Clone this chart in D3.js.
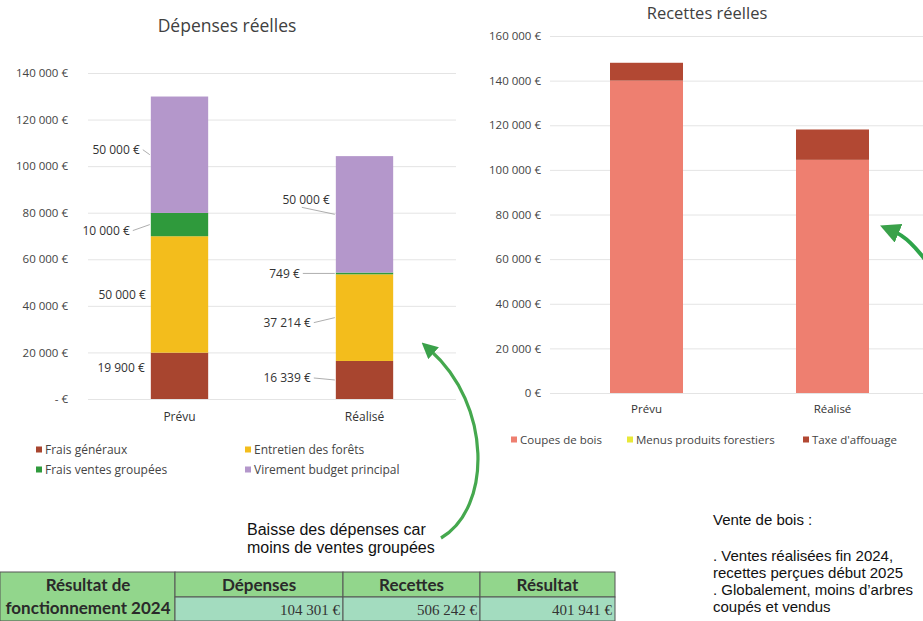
<!DOCTYPE html>
<html>
<head>
<meta charset="utf-8">
<script src="https://cdn.jsdelivr.net/npm/d3@7"></script>
<style>
  body { margin: 0; background: #fff; }
  svg { display: block; }
</style>
</head>
<body>
<div id="chart"></div>
<script>
// --- data: dépenses
var categories = ["Prévu", "Réalisé"];
var depSeries = ["Frais généraux", "Entretien des forêts", "Frais ventes groupées", "Virement budget principal"];
var fraisGeneraux = [19900, 16339];
var entretienForets = [50000, 37214];
var fraisVentes = [10000, 749];
var virement = [50000, 50000];
var depTicks = [0, 20000, 40000, 60000, 80000, 100000, 120000, 140000];

// --- data: recettes
var recSeries = ["Coupes de bois", "Menus produits forestiers", "Taxe d'affouage"];
var coupesBois = [140000, 104500];
var menusProduits = [0, 0];
var taxeAffouage = [8000, 13600];
var recTicks = [0, 20000, 40000, 60000, 80000, 100000, 120000, 140000, 160000];

// --- data: tableau
var tableHeaders = ["Dépenses", "Recettes", "Résultat"];
var tableValues = [104301, 506242, 401941];

var depColors = ["#a8452f", "#f3bd1c", "#2f9a3c", "#b497cb"];
var recColors = ["#ee7f70", "#e8e838", "#b24833"];

var W = 923, H = 621;
var svg = d3.select("#chart").append("svg").attr("width", W).attr("height", H);

var fmt = function(v) { return d3.format(",")(v).replace(/,/g, " ") + " €"; };
var font = "'Open Sans', sans-serif";
var tblFont = "Lato, sans-serif";
var noteFont = "'Liberation Sans', Arial, sans-serif";

// ---------- DÉPENSES ----------
var depRows = categories.map(function(c, i) {
  return { cat: c, "Frais généraux": fraisGeneraux[i], "Entretien des forêts": entretienForets[i],
           "Frais ventes groupées": fraisVentes[i], "Virement budget principal": virement[i] };
});
var depStack = d3.stack().keys(depSeries)(depRows);

var xDep = d3.scaleBand().domain(categories).range([87, 457]).paddingInner(0.69).paddingOuter(0.345);
var yDep = d3.scaleLinear().domain([0, 140000]).range([399, 73]);

var gDep = svg.append("g");
gDep.append("text").attr("x", 227).attr("y", 32).attr("text-anchor", "middle")
  .attr("font-family", font).attr("font-size", 17.5).attr("fill", "#404040").text("Dépenses réelles");

var yAxisDep = d3.axisLeft(yDep).tickValues(depTicks).tickSize(-368)
  .tickFormat(function(d) { return d === 0 ? "-   €" : fmt(d); });
gDep.append("g").attr("transform", "translate(88,0)").call(yAxisDep)
  .call(function(g) {
    g.select(".domain").remove();
    g.selectAll(".tick line").attr("stroke", "#e4e4e4");
    g.selectAll(".tick text").attr("x", -20).attr("font-family", font).attr("font-size", 11.5).attr("fill", "#444");
  });

gDep.selectAll("g.layer").data(depStack).enter().append("g").attr("class", "layer")
  .attr("fill", function(d, i) { return depColors[i]; })
  .selectAll("rect").data(function(d) { return d; }).enter().append("rect")
  .attr("x", function(d) { return xDep(d.data.cat); })
  .attr("y", function(d) { return yDep(d[1]); })
  .attr("width", xDep.bandwidth())
  .attr("height", function(d) { return yDep(d[0]) - yDep(d[1]); });

// décalage des étiquettes (écart au bord gauche de la barre, décalage vertical)
var labelNudge = {
  "Prévu":   [[6, -8], [5, 0], [21, 6], [11, -5]],
  "Réalisé": [[25, -2], [25, 5], [36, 0], [6, -15]]
};
depStack.forEach(function(layer, si) {
  layer.forEach(function(d) {
    var cat = d.data.cat, nd = labelNudge[cat][si];
    var bx = xDep(cat), cy = (yDep(d[0]) + yDep(d[1])) / 2;
    var lx = bx - nd[0], ly = cy + nd[1];
    gDep.append("text").attr("x", lx).attr("y", ly).attr("dy", "0.35em").attr("text-anchor", "end")
      .attr("font-family", font).attr("font-size", 12).attr("fill", "#333").text(fmt(d[1] - d[0]));
    if (nd[0] > 8) {
      gDep.append("line").attr("x1", lx + 3).attr("y1", ly).attr("x2", bx - 1).attr("y2", cy)
        .attr("stroke", "#999").attr("stroke-width", 0.8);
    } else if (Math.abs(nd[1]) > 10) {
      gDep.append("line").attr("x1", lx - 28).attr("y1", ly + 8).attr("x2", bx - 1).attr("y2", cy)
        .attr("stroke", "#999").attr("stroke-width", 0.8);
    }
  });
});

gDep.selectAll("text.xl").data(categories).enter().append("text").attr("class", "xl")
  .attr("x", function(d) { return xDep(d) + xDep.bandwidth() / 2; }).attr("y", 421)
  .attr("text-anchor", "middle").attr("font-family", font).attr("font-size", 12).attr("fill", "#333")
  .text(function(d) { return d; });

// légende : col 1 = Frais généraux / Frais ventes groupées, col 2 = Entretien / Virement
var depLegPos = [[36, 450], [245, 450], [36, 470], [245, 470]];
var depLegend = gDep.selectAll("g.leg").data(depSeries).enter().append("g").attr("class", "leg")
  .attr("transform", function(d, i) { return "translate(" + depLegPos[i] + ")"; });
depLegend.append("rect").attr("x", 0).attr("y", -3.5).attr("width", 6).attr("height", 6)
  .attr("fill", function(d, i) { return depColors[i]; });
depLegend.append("text").attr("x", 9).attr("dy", "0.35em").attr("font-family", font).attr("font-size", 12)
  .attr("fill", "#444").text(function(d) { return d; });

// ---------- RECETTES ----------
var recRows = categories.map(function(c, i) {
  return { cat: c, "Coupes de bois": coupesBois[i], "Menus produits forestiers": menusProduits[i], "Taxe d'affouage": taxeAffouage[i] };
});
var recStack = d3.stack().keys(recSeries)(recRows);

var xRec = d3.scaleBand().domain(categories).range([550, 929]).paddingInner(0.6075).paddingOuter(0.3226);
var yRec = d3.scaleLinear().domain([0, 160000]).range([393, 36]);

var gRec = svg.append("g");
gRec.append("text").attr("x", 707).attr("y", 19).attr("text-anchor", "middle")
  .attr("font-family", font).attr("font-size", 16.5).attr("fill", "#404040").text("Recettes réelles");

var yAxisRec = d3.axisLeft(yRec).tickValues(recTicks).tickSize(-380)
  .tickFormat(function(d) { return fmt(d); });
gRec.append("g").attr("transform", "translate(550,0)").call(yAxisRec)
  .call(function(g) {
    g.select(".domain").remove();
    g.selectAll(".tick line").attr("stroke", "#e4e4e4");
    g.selectAll(".tick text").attr("x", -9).attr("font-family", font).attr("font-size", 11.5).attr("fill", "#444");
  });

gRec.selectAll("g.layer").data(recStack).enter().append("g").attr("class", "layer")
  .attr("fill", function(d, i) { return recColors[i]; })
  .selectAll("rect").data(function(d) { return d; }).enter().append("rect")
  .attr("x", function(d) { return xRec(d.data.cat); })
  .attr("y", function(d) { return yRec(d[1]); })
  .attr("width", xRec.bandwidth())
  .attr("height", function(d) { return yRec(d[0]) - yRec(d[1]); });

gRec.selectAll("text.xl").data(categories).enter().append("text").attr("class", "xl")
  .attr("x", function(d) { return xRec(d) + xRec.bandwidth() / 2; }).attr("y", 413)
  .attr("text-anchor", "middle").attr("font-family", font).attr("font-size", 11.5).attr("fill", "#333")
  .text(function(d) { return d; });

var recLegendX = [511, 627, 803];
var recLegend = gRec.selectAll("g.leg").data(recSeries).enter().append("g").attr("class", "leg")
  .attr("transform", function(d, i) { return "translate(" + recLegendX[i] + ",440)"; });
recLegend.append("rect").attr("x", 0).attr("y", -3.5).attr("width", 6).attr("height", 6)
  .attr("fill", function(d, i) { return recColors[i]; });
recLegend.append("text").attr("x", 9).attr("dy", "0.35em").attr("font-family", font).attr("font-size", 11.5)
  .attr("fill", "#444").text(function(d) { return d; });

// ---------- FLÈCHES ----------
var defs = svg.append("defs");
defs.append("marker").attr("id", "head").attr("viewBox", "0 0 10 10").attr("refX", 3).attr("refY", 5)
  .attr("markerWidth", 5).attr("markerHeight", 5).attr("orient", "auto-start-reverse")
  .append("path").attr("d", "M0,0 L10,5 L0,10 Z").attr("fill", "#3aa14a");

svg.append("path").attr("d", "M441,538 C492,508 492,405 430,350")
  .attr("fill", "none").attr("stroke", "#45a84e").attr("stroke-width", 3.2).attr("marker-end", "url(#head)");
svg.append("path").attr("d", "M930,266 C915,246 905,236 893,231")
  .attr("fill", "none").attr("stroke", "#2ea44a").attr("stroke-width", 4).attr("marker-end", "url(#head)");

// ---------- TEXTES ----------
var note = svg.append("text").attr("font-family", noteFont).attr("font-size", 16).attr("fill", "#111");
note.append("tspan").attr("x", 247).attr("y", 535).text("Baisse des dépenses car");
note.append("tspan").attr("x", 247).attr("y", 553).text("moins de ventes groupées");

var vente = svg.append("text").attr("font-family", noteFont).attr("font-size", 15).attr("fill", "#111");
vente.append("tspan").attr("x", 713).attr("y", 525).text("Vente de bois :");
vente.append("tspan").attr("x", 713).attr("y", 561).text(". Ventes réalisées fin 2024,");
vente.append("tspan").attr("x", 713).attr("y", 578).text("recettes perçues début 2025");
vente.append("tspan").attr("x", 713).attr("y", 595).text(". Globalement, moins d’arbres");
vente.append("tspan").attr("x", 713).attr("y", 612).text("coupés et vendus");

// ---------- TABLEAU ----------
var tbl = svg.append("g");
var colX = [0, 175, 343, 480, 615];
var rowY = [572, 597, 621];
tbl.append("rect").attr("x", colX[0]).attr("y", rowY[0]).attr("width", colX[1] - colX[0]).attr("height", rowY[2] - rowY[0])
  .attr("fill", "#92d68c").attr("stroke", "#555");
tableHeaders.forEach(function(h, i) {
  tbl.append("rect").attr("x", colX[i + 1]).attr("y", rowY[0]).attr("width", colX[i + 2] - colX[i + 1]).attr("height", rowY[1] - rowY[0])
    .attr("fill", "#92d68c").attr("stroke", "#555");
  tbl.append("rect").attr("x", colX[i + 1]).attr("y", rowY[1]).attr("width", colX[i + 2] - colX[i + 1]).attr("height", rowY[2] - rowY[1])
    .attr("fill", "#a3dcbf").attr("stroke", "#555");
  tbl.append("text").attr("x", (colX[i + 1] + colX[i + 2]) / 2).attr("y", 591).attr("text-anchor", "middle")
    .attr("font-family", tblFont).attr("font-weight", "bold").attr("font-size", 17).attr("fill", "#2a2a2a").text(h);
  tbl.append("text").attr("x", colX[i + 2] - 3).attr("y", 615).attr("text-anchor", "end")
    .attr("font-family", "'Liberation Serif', serif").attr("font-size", 15).attr("fill", "#333").text(fmt(tableValues[i]));
});
tbl.append("text").attr("x", 88).attr("y", 591).attr("text-anchor", "middle")
  .attr("font-family", tblFont).attr("font-weight", "bold").attr("font-size", 17).attr("fill", "#2a2a2a").text("Résultat de");
tbl.append("text").attr("x", 88).attr("y", 614).attr("text-anchor", "middle")
  .attr("font-family", tblFont).attr("font-weight", "bold").attr("font-size", 17).attr("fill", "#2a2a2a").text("fonctionnement 2024");
</script>
</body>
</html>
